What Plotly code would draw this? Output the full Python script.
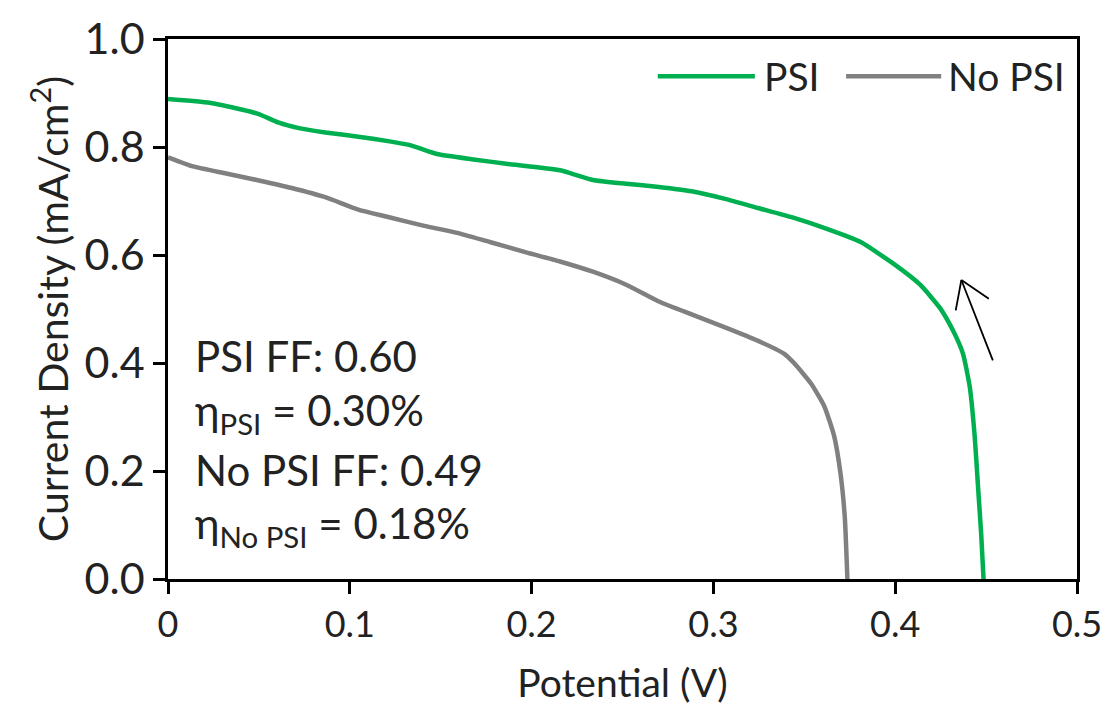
import plotly.graph_objects as go

# PSI curve (green)
psi_v = [0.0, 0.0229, 0.041, 0.050, 0.061, 0.072, 0.0865, 0.1047, 0.1227, 0.1336, 0.148, 0.168, 0.186,
         0.2156, 0.2337, 0.252, 0.270, 0.288, 0.3064, 0.3246, 0.343, 0.3628, 0.381, 0.399, 0.4137,
         0.4246, 0.4318, 0.4373, 0.441, 0.4437, 0.4455, 0.4473, 0.4486]
psi_j = [0.889, 0.882, 0.869, 0.861, 0.845, 0.835, 0.827, 0.819, 0.810, 0.803, 0.787, 0.777, 0.769,
         0.757, 0.739, 0.732, 0.726, 0.718, 0.704, 0.687, 0.670, 0.648, 0.624, 0.584, 0.545,
         0.502, 0.460, 0.417, 0.356, 0.265, 0.174, 0.083, 0.0]

# No PSI curve (gray)
nopsi_v = [0.0, 0.0138, 0.032, 0.050, 0.068, 0.0865, 0.1047, 0.1227, 0.141, 0.159, 0.177, 0.197,
           0.2156, 0.2337, 0.252, 0.270, 0.288, 0.3064, 0.3246, 0.339, 0.3446, 0.3537, 0.361,
           0.3664, 0.370, 0.3723, 0.3737]
nopsi_j = [0.781, 0.764, 0.751, 0.738, 0.724, 0.707, 0.684, 0.669, 0.654, 0.641, 0.624, 0.605,
           0.588, 0.569, 0.545, 0.514, 0.490, 0.466, 0.441, 0.417, 0.399, 0.362, 0.320,
           0.265, 0.193, 0.113, 0.0]

x_ticks = [0, 0.1, 0.2, 0.3, 0.4, 0.5]
x_tick_labels = ["0", "0.1", "0.2", "0.3", "0.4", "0.5"]
y_ticks = [0.0, 0.2, 0.4, 0.6, 0.8, 1.0]
y_tick_labels = ["0.0", "0.2", "0.4", "0.6", "0.8", "1.0"]

notes = ["PSI FF: 0.60", "η<sub>PSI</sub> = 0.30%", "No PSI FF: 0.49", "η<sub>No PSI</sub> = 0.18%"]
note_y = [0.4135, 0.308, 0.2022, 0.0984]

GREEN = "#00B050"
GRAY = "#808080"
FONT = "Lato"
TXT = "#222"

fig = go.Figure()
fig.add_trace(go.Scatter(x=psi_v, y=psi_j, mode="lines", name="PSI",
                         line=dict(color=GREEN, width=4.5, shape="spline", smoothing=0.5)))
fig.add_trace(go.Scatter(x=nopsi_v, y=nopsi_j, mode="lines", name="No PSI",
                         line=dict(color=GRAY, width=4.5, shape="spline", smoothing=0.5)))

axis_common = dict(showgrid=False, zeroline=False, showline=True, linecolor="black", linewidth=2.5,
                   mirror=True, ticks="outside", ticklen=12, tickwidth=2.5, tickcolor="black")
fig.update_xaxes(range=[0, 0.5], tickvals=x_ticks, ticktext=x_tick_labels,
                 tickfont=dict(family=FONT, size=36, color=TXT),
                 title=dict(text="Potential (V)", font=dict(family=FONT, size=39, color=TXT), standoff=26),
                 **axis_common)
fig.update_yaxes(range=[0, 1.0], tickvals=y_ticks, ticktext=y_tick_labels,
                 tickfont=dict(family=FONT, size=43, color=TXT),
                 title=dict(text="Current Density (mA/cm<sup>2</sup>)", font=dict(family=FONT, size=41, color=TXT), standoff=4),
                 **axis_common)

for txt, yy in zip(notes, note_y):
    fig.add_annotation(x=0.0136, y=yy, xref="x", yref="y", text=txt, showarrow=False,
                       xanchor="left", yanchor="middle", font=dict(family=FONT, size=42, color=TXT))

# arrow (annotation decoration)
ARROW_TIP = (0.4364, 0.5537)
ARROW_TAIL = (0.4537, 0.4049)
ARROW_LEFT = (0.4333, 0.4973)
ARROW_RIGHT = (0.4515, 0.5191)
for end in (ARROW_TAIL, ARROW_LEFT, ARROW_RIGHT):
    fig.add_shape(type="line", xref="x", yref="y", x0=ARROW_TIP[0], y0=ARROW_TIP[1], x1=end[0], y1=end[1],
                  line=dict(color="black", width=1.8))

# manual legend
legend_items = [("PSI", GREEN, 0.2694, 0.3228, 0.327), ("No PSI", GRAY, 0.373, 0.4253, 0.4281)]
LEG_Y = 0.931
for name, col, x0, x1, xt in legend_items:
    fig.add_shape(type="line", xref="x", yref="y", x0=x0, x1=x1, y0=LEG_Y, y1=LEG_Y,
                  line=dict(color=col, width=4.5))
    fig.add_annotation(x=xt, y=LEG_Y, xref="x", yref="y", text=name, showarrow=False,
                       xanchor="left", yanchor="middle", font=dict(family=FONT, size=39, color=TXT))

fig.update_layout(width=1114, height=725, margin=dict(l=168, r=29, t=30, b=146),
                  plot_bgcolor="white", paper_bgcolor="white", showlegend=False,
                  font=dict(family=FONT))

fig.write_html("out.html")
